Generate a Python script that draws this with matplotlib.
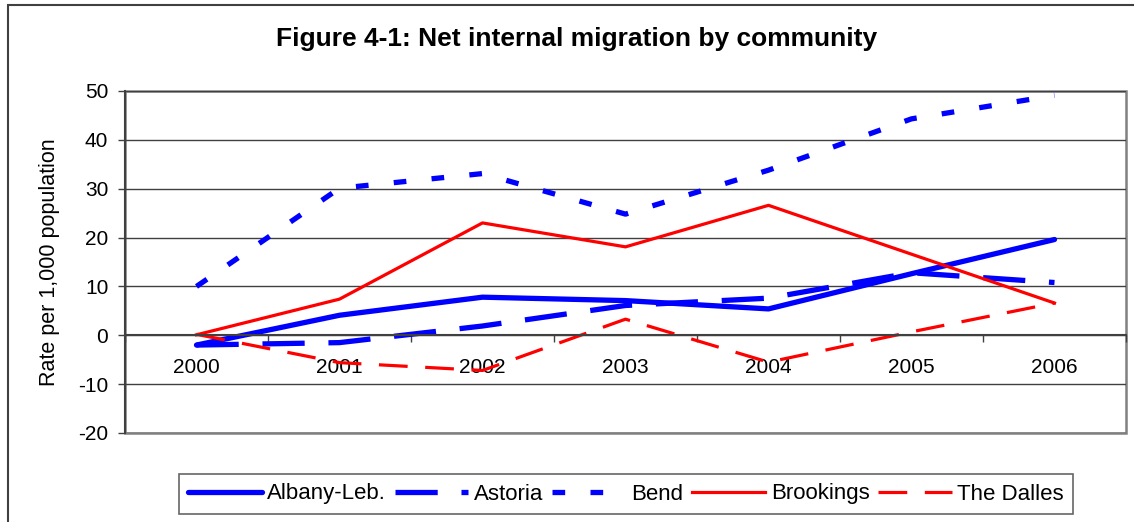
import numpy as np
import matplotlib
matplotlib.use("Agg")
import matplotlib.pyplot as plt
from matplotlib.patches import Rectangle

plt.rcParams['font.family'] = ['Liberation Sans', 'DejaVu Sans']

years = ["2000", "2001", "2002", "2003", "2004", "2005", "2006"]
albany = [-2.0, 4.1, 7.8, 7.1, 5.4, 12.6, 19.6]
astoria = [-2.0, -1.5, 1.9, 6.1, 7.6, 12.8, 10.8]
bend = [10.0, 30.1, 33.1, 24.8, 33.8, 44.3, 49.1]
brookings = [0.1, 7.4, 23.0, 18.1, 26.6, 16.6, 6.6]
dalles = [0.2, -5.6, -7.2, 3.3, -5.5, 0.7, 6.6]

W, H = 1134, 522
fig = plt.figure(figsize=(W / 100, H / 100), dpi=100)
ax = fig.add_axes([125 / W, 1 - 433 / H, 1001 / W, 342 / H])

x = np.arange(len(years))
blue = "#0000FF"
red = "#FF0000"
ax.plot(x, albany, color=blue, lw=3.8, solid_capstyle="round", label="Albany-Leb.")
ax.plot(x, astoria, color=blue, lw=3.8, dashes=(8, 4.5), dash_capstyle="butt", label="Astoria")
ax.plot(x, bend, color=blue, lw=3.8, dashes=(2.4, 4.8), dash_capstyle="butt", label="Bend")
ax.plot(x, brookings, color=red, lw=2.3, label="Brookings")
ax.plot(x, dalles, color=red, lw=2.3, dashes=(9, 5.5), dash_capstyle="butt", label="The Dalles")

ax.set_xlim(-0.5, 6.5)
ax.set_ylim(-20, 50)
ax.set_yticks(np.arange(-20, 51, 10))
ax.set_yticklabels([str(v) for v in range(-20, 51, 10)])
ax.yaxis.grid(True, color="#404040", lw=1)
ax.set_axisbelow(True)

ax.set_xticks(x)
ax.set_xticklabels(years)
ax.set_xticks(np.arange(-0.5, 7, 1), minor=True)
ax.tick_params(axis="x", which="major", length=0, pad=16, labelsize=15)
ax.tick_params(axis="x", which="minor", length=5, width=1, color="#404040", direction="out")
ax.tick_params(axis="y", length=5, width=1, color="#404040", pad=7, labelsize=15)

for s in ["top", "right"]:
    ax.spines[s].set_visible(False)
ax.spines["bottom"].set_position(("data", 0))
ax.spines["bottom"].set_color("#404040")
ax.spines["bottom"].set_linewidth(1.5)
ax.spines["left"].set_color("#404040")
ax.spines["left"].set_linewidth(1.5)
ax.add_patch(Rectangle((0, 0), 1, 1, transform=ax.transAxes, fill=False,
                       edgecolor="#808080", lw=1.8, clip_on=False, zorder=0.5))

ax.set_ylabel("Rate per 1,000 population", fontsize=15.5)
ax.yaxis.label.set_va("center")
ax.yaxis.set_label_coords((50 - 125) / 1001, 0.5)

fig.text(577 / W, 1 - 46 / H, "Figure 4-1: Net internal migration by community",
         ha="center", va="baseline", fontsize=19, fontweight="bold")

leg = fig.legend(loc="center", bbox_to_anchor=(626 / W, 1 - 494 / H), ncol=5,
                 fontsize=16, frameon=True, fancybox=False, handlelength=3.3,
                 handletextpad=0.25, columnspacing=0.4, borderpad=0.42)
leg.get_frame().set_edgecolor("#404040")
leg.get_frame().set_linewidth(1.2)

fig.add_artist(Rectangle((8 / W, -0.1), 1.2, 1.1 - 5 / H, transform=fig.transFigure,
                         fill=False, edgecolor="#404040", lw=1.5))

fig.savefig("out.png", dpi=100)
